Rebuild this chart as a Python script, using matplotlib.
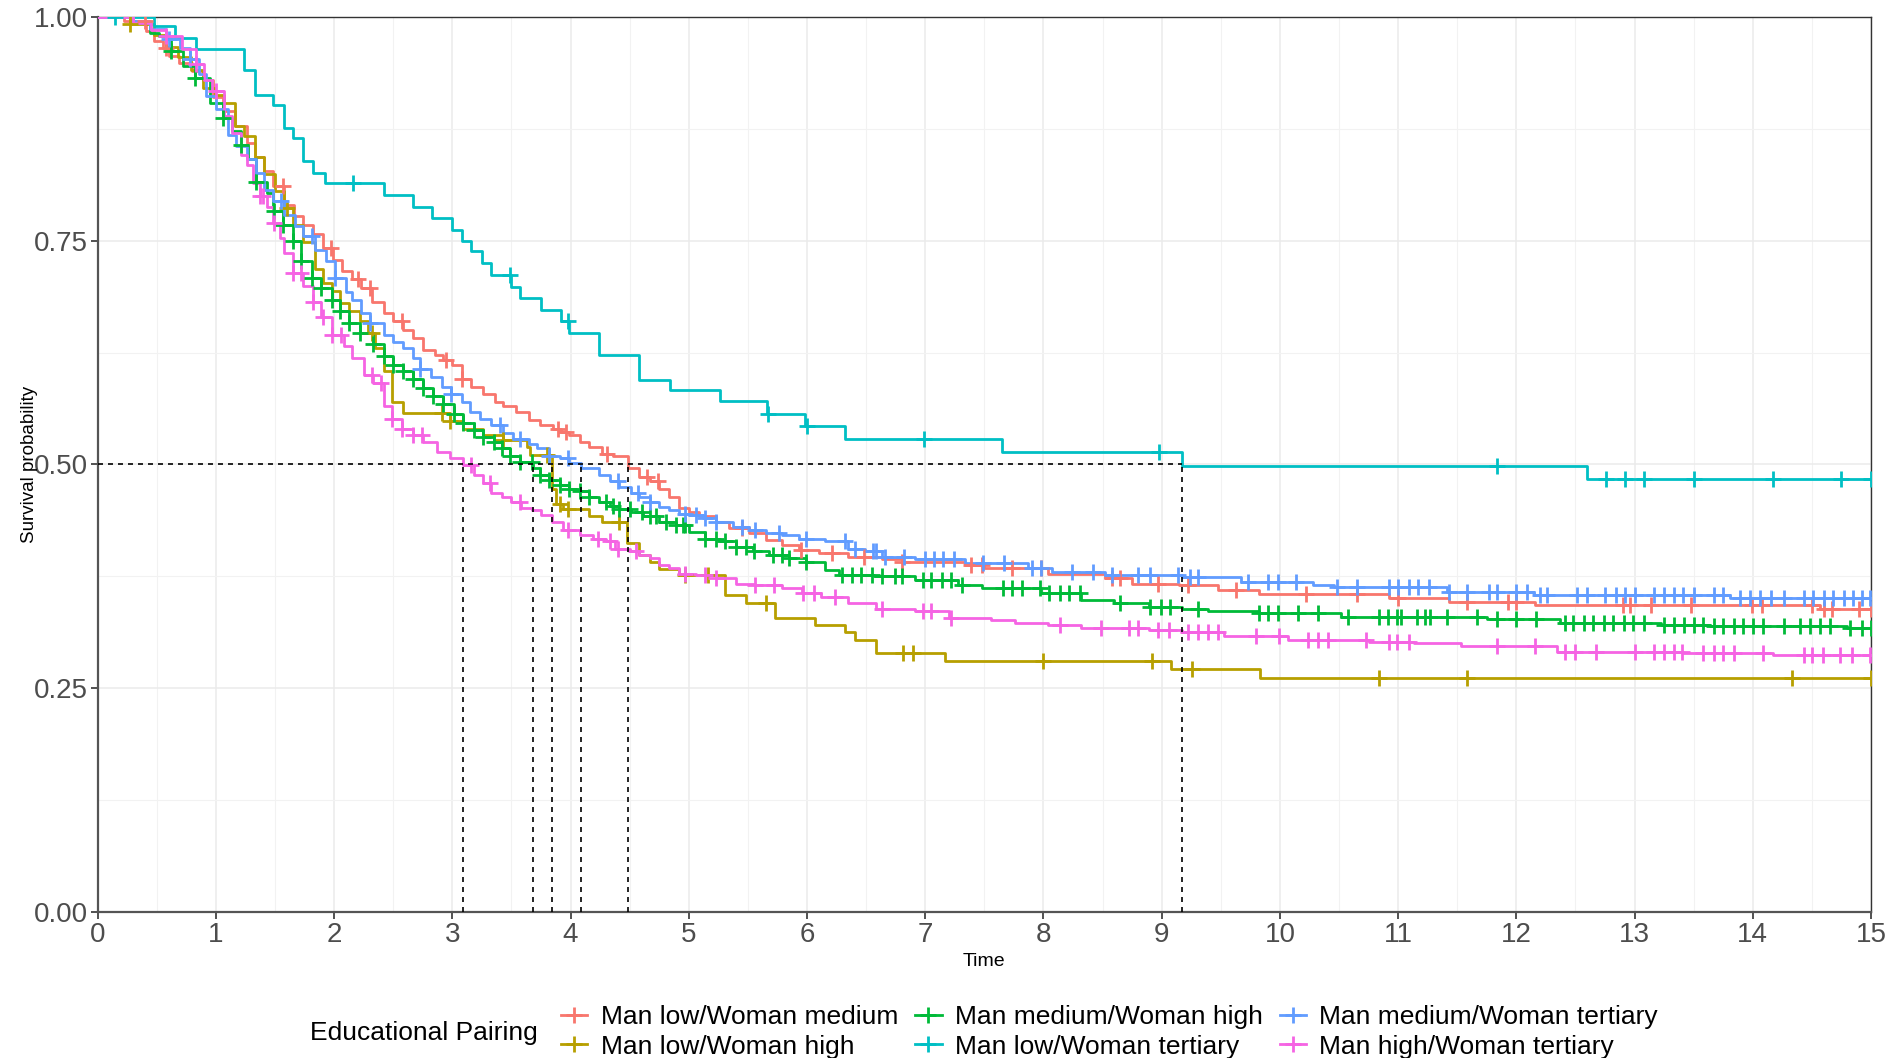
import numpy as np
import matplotlib
matplotlib.use("Agg")
import matplotlib.pyplot as plt
from matplotlib.lines import Line2D

plt.rcParams['font.family'] = ['Liberation Sans', 'DejaVu Sans']

# ── 데이터 (그림에서 읽은 Kaplan-Meier 계단값) ─────────────────────────────
labels = ["Man low/Woman medium", "Man low/Woman high", "Man medium/Woman high",
          "Man low/Woman tertiary", "Man medium/Woman tertiary", "Man high/Woman tertiary"]
colors = ["#F8766D", "#B79F00", "#00BA38", "#00BFC4", "#619CFF", "#F564E3"]

red_t = [0, 0.22, 0.41, 0.48, 0.55, 0.6, 0.69, 0.8, 0.89, 0.975, 1.06, 1.16, 1.26, 1.33, 1.41, 1.48,
         1.58, 1.66, 1.74, 1.82, 1.91, 1.99, 2.07, 2.15, 2.23, 2.32, 2.42, 2.5, 2.58, 2.67, 2.75, 2.85,
         2.92, 3.0, 3.08, 3.16, 3.26, 3.36, 3.43, 3.54, 3.65, 3.74, 3.85, 3.92, 3.99, 4.08, 4.16, 4.27,
         4.36, 4.49, 4.58, 4.67, 4.75, 4.83, 4.92, 5.0, 5.09, 5.23, 5.34, 5.51, 5.65, 5.79, 5.93, 6.1,
         6.35, 6.63, 6.8, 7.34, 7.5, 8.04, 8.52, 8.75, 9.15, 9.48, 9.82, 10.92, 11.43, 12.16, 14.57]
red_s = [1.0, 0.995, 0.984, 0.973, 0.965, 0.956, 0.949, 0.94, 0.93, 0.91, 0.895, 0.878, 0.859, 0.843,
         0.828, 0.811, 0.79, 0.778, 0.768, 0.757, 0.742, 0.728, 0.716, 0.707, 0.697, 0.682, 0.669, 0.66,
         0.65, 0.641, 0.628, 0.622, 0.617, 0.611, 0.596, 0.587, 0.579, 0.57, 0.565, 0.559, 0.55, 0.544,
         0.54, 0.536, 0.533, 0.525, 0.52, 0.512, 0.51, 0.496, 0.486, 0.481, 0.473, 0.464, 0.451, 0.447,
         0.442, 0.436, 0.429, 0.423, 0.416, 0.41, 0.404, 0.401, 0.397, 0.394, 0.391, 0.388, 0.384, 0.378,
         0.373, 0.367, 0.365, 0.36, 0.355, 0.351, 0.346, 0.343, 0.339]
red_cens = [0.4, 0.58, 1.57, 1.97, 2.2, 2.3, 2.57, 2.95, 3.08, 3.89, 3.96, 4.31, 4.65, 4.74, 5.45, 5.95,
            6.21, 6.48, 6.8, 7.39, 7.48, 7.73, 7.98, 8.58, 8.65, 8.97, 9.22, 9.63, 10.22, 10.65, 11.0,
            11.58, 11.93, 12.0, 12.9, 12.96, 13.14, 13.48, 13.99, 14.08, 14.5, 14.6, 14.67, 14.9, 15.0]

yel_t = [0, 0.27, 0.48, 0.58, 0.68, 0.79, 0.89, 0.99, 1.07, 1.16, 1.24, 1.33, 1.41, 1.5, 1.58, 1.65,
         1.74, 1.84, 1.91, 1.98, 2.05, 2.13, 2.22, 2.29, 2.35, 2.42, 2.49, 2.58, 2.98, 3.09, 3.26, 3.43,
         3.63, 3.66, 3.84, 3.88, 3.94, 4.16, 4.27, 4.48, 4.58, 4.67, 4.75, 4.92, 5.31, 5.48, 5.73, 6.07,
         6.32, 6.41, 6.58, 7.17, 9.08, 9.83]
yel_s = [1.0, 0.992, 0.98, 0.966, 0.955, 0.941, 0.921, 0.913, 0.904, 0.878, 0.867, 0.844, 0.824, 0.805,
         0.786, 0.768, 0.749, 0.718, 0.703, 0.694, 0.68, 0.671, 0.66, 0.647, 0.63, 0.604, 0.57, 0.557,
         0.548, 0.54, 0.533, 0.527, 0.52, 0.511, 0.473, 0.456, 0.45, 0.442, 0.436, 0.412, 0.399, 0.391,
         0.383, 0.376, 0.354, 0.345, 0.328, 0.321, 0.313, 0.304, 0.289, 0.28, 0.271, 0.261]
yel_cens = [0.27, 1.6, 2.32, 2.91, 2.98, 3.43, 3.8, 3.91, 3.98, 4.41, 4.97, 5.16, 5.65, 6.81, 6.9, 8.0,
            8.92, 9.26, 10.84, 11.58, 14.33, 15.0]

grn_t = [0, 0.3, 0.44, 0.52, 0.62, 0.72, 0.82, 0.95, 1.06, 1.14, 1.21, 1.27, 1.34, 1.43, 1.48, 1.57,
         1.65, 1.72, 1.81, 1.89, 1.98, 2.05, 2.13, 2.22, 2.33, 2.42, 2.5, 2.58, 2.67, 2.75, 2.84, 2.92,
         3.01, 3.09, 3.18, 3.26, 3.35, 3.42, 3.49, 3.57, 3.68, 3.74, 3.82, 3.91, 3.99, 4.08, 4.16, 4.24,
         4.33, 4.41, 4.51, 4.61, 4.75, 4.89, 5.0, 5.14, 5.26, 5.4, 5.54, 5.68, 5.85, 5.99, 6.15, 6.27,
         6.57, 6.91, 7.28, 7.48, 7.98, 8.32, 8.6, 8.89, 9.17, 9.39, 9.82, 10.52, 11.75, 12.37, 13.22,
         13.64, 14.8]
grn_s = [1.0, 0.993, 0.982, 0.979, 0.962, 0.945, 0.932, 0.904, 0.887, 0.872, 0.857, 0.841, 0.816, 0.803,
         0.783, 0.768, 0.75, 0.727, 0.708, 0.697, 0.684, 0.671, 0.658, 0.647, 0.635, 0.621, 0.611, 0.604,
         0.596, 0.585, 0.576, 0.568, 0.556, 0.546, 0.538, 0.531, 0.525, 0.518, 0.51, 0.503, 0.496, 0.488,
         0.483, 0.477, 0.473, 0.47, 0.464, 0.458, 0.454, 0.45, 0.447, 0.442, 0.436, 0.432, 0.425, 0.417,
         0.414, 0.408, 0.403, 0.399, 0.395, 0.391, 0.382, 0.377, 0.375, 0.371, 0.365, 0.362, 0.356, 0.349,
         0.345, 0.341, 0.339, 0.336, 0.334, 0.33, 0.327, 0.323, 0.321, 0.319, 0.317]
grn_cens = [0.62, 0.82, 1.06, 1.21, 1.34, 1.49, 1.57, 1.65, 1.72, 1.81, 1.89, 1.98, 2.05, 2.13, 2.22,
            2.33, 2.42, 2.5, 2.58, 2.67, 2.75, 2.84, 2.92, 3.01, 3.09, 3.18, 3.26, 3.35, 3.42, 3.49, 3.57,
            3.67, 3.74, 3.82, 3.91, 3.99, 4.08, 4.16, 4.3, 4.36, 4.41, 4.5, 4.6, 4.67, 4.72, 4.81, 4.89,
            4.95, 4.97, 5.14, 5.23, 5.31, 5.4, 5.48, 5.55, 5.71, 5.79, 5.85, 5.99, 6.3, 6.38, 6.46, 6.55,
            6.63, 6.74, 6.8, 6.98, 7.05, 7.14, 7.22, 7.31, 7.66, 7.73, 7.82, 7.97, 8.05, 8.14, 8.22, 8.31,
            8.65, 8.9, 8.99, 9.07, 9.31, 9.82, 9.9, 9.98, 10.15, 10.32, 10.58, 10.84, 10.91, 10.99, 11.02,
            11.16, 11.23, 11.27, 11.41, 11.67, 11.84, 12.0, 12.17, 12.41, 12.48, 12.57, 12.65, 12.74, 12.82,
            12.91, 12.99, 13.08, 13.25, 13.33, 13.42, 13.5, 13.58, 13.67, 13.75, 13.84, 13.92, 14.0, 14.09,
            14.26, 14.4, 14.48, 14.57, 14.65, 14.82, 14.92, 15.0]

teal_t = [0, 0.48, 0.65, 0.83, 1.24, 1.33, 1.48, 1.58, 1.65, 1.74, 1.82, 1.92, 2.42, 2.67, 2.83, 3.0,
          3.08, 3.16, 3.25, 3.33, 3.5, 3.57, 3.75, 3.92, 3.99, 4.24, 4.58, 4.84, 5.26, 5.66, 5.98, 6.32,
          7.65, 9.17, 12.6]
teal_s = [1.0, 0.99, 0.977, 0.964, 0.941, 0.913, 0.902, 0.876, 0.865, 0.839, 0.826, 0.815, 0.801, 0.788,
          0.775, 0.762, 0.75, 0.738, 0.725, 0.712, 0.698, 0.686, 0.673, 0.66, 0.647, 0.622, 0.594, 0.583,
          0.571, 0.556, 0.543, 0.529, 0.514, 0.498, 0.484]
teal_cens = [0.15, 2.16, 3.49, 3.98, 5.67, 6.0, 6.99, 8.98, 11.84, 12.76, 12.92, 13.08, 13.5, 14.17,
             14.75, 15.0]

blu_t = [0, 0.3, 0.44, 0.58, 0.7, 0.78, 0.86, 0.92, 1.0, 1.1, 1.17, 1.26, 1.34, 1.41, 1.48, 1.58, 1.67,
         1.74, 1.84, 1.93, 2.01, 2.1, 2.15, 2.23, 2.3, 2.42, 2.5, 2.58, 2.67, 2.73, 2.82, 2.91, 2.99,
         3.08, 3.15, 3.23, 3.33, 3.43, 3.51, 3.65, 3.72, 3.82, 3.91, 3.99, 4.09, 4.24, 4.33, 4.41, 4.51,
         4.58, 4.67, 4.75, 4.83, 4.92, 5.0, 5.12, 5.23, 5.37, 5.51, 5.65, 5.79, 5.93, 6.15, 6.35, 6.49,
         6.63, 6.91, 7.34, 7.87, 8.07, 8.52, 9.17, 9.67, 10.28, 10.46, 11.41, 12.15, 13.81]
blu_s = [1.0, 0.995, 0.986, 0.975, 0.965, 0.953, 0.936, 0.912, 0.897, 0.868, 0.856, 0.841, 0.826, 0.807,
         0.794, 0.779, 0.766, 0.755, 0.74, 0.727, 0.708, 0.693, 0.684, 0.669, 0.658, 0.645, 0.637, 0.63,
         0.619, 0.607, 0.598, 0.587, 0.579, 0.57, 0.559, 0.551, 0.544, 0.535, 0.529, 0.523, 0.518, 0.51,
         0.507, 0.502, 0.496, 0.488, 0.481, 0.475, 0.468, 0.464, 0.458, 0.453, 0.449, 0.445, 0.443, 0.44,
         0.436, 0.43, 0.427, 0.423, 0.421, 0.417, 0.414, 0.406, 0.403, 0.397, 0.394, 0.39, 0.384, 0.38,
         0.377, 0.374, 0.369, 0.365, 0.363, 0.358, 0.354, 0.351]
blu_cens = [0.6, 0.78, 1.55, 1.81, 2.01, 2.3, 2.73, 2.99, 3.4, 3.57, 3.82, 3.98, 4.4, 4.57, 4.67, 4.97,
            5.06, 5.14, 5.23, 5.45, 5.56, 5.76, 5.99, 6.32, 6.41, 6.56, 6.58, 6.66, 6.82, 7.0, 7.07, 7.15,
            7.24, 7.49, 7.67, 7.9, 7.98, 8.24, 8.42, 8.58, 8.8, 8.9, 9.14, 9.24, 9.31, 9.73, 9.9, 9.98,
            10.14, 10.48, 10.65, 10.92, 11.0, 11.09, 11.17, 11.26, 11.43, 11.58, 11.77, 11.84, 12.0, 12.09,
            12.2, 12.26, 12.51, 12.6, 12.75, 12.84, 12.92, 13.0, 13.16, 13.25, 13.33, 13.41, 13.5, 13.67,
            13.75, 13.89, 13.98, 14.06, 14.15, 14.26, 14.43, 14.51, 14.6, 14.68, 14.77, 14.85, 14.92, 14.99]

pnk_t = [0, 0.3, 0.45, 0.58, 0.71, 0.83, 0.9, 0.97, 1.07, 1.14, 1.21, 1.26, 1.31, 1.37, 1.43, 1.48, 1.54,
         1.58, 1.65, 1.74, 1.82, 1.89, 1.98, 2.08, 2.15, 2.25, 2.33, 2.42, 2.49, 2.57, 2.67, 2.75, 2.87,
         2.98, 3.09, 3.18, 3.26, 3.33, 3.42, 3.5, 3.58, 3.67, 3.75, 3.84, 3.94, 4.08, 4.19, 4.3, 4.38,
         4.5, 4.58, 4.67, 4.75, 4.83, 4.92, 5.06, 5.23, 5.4, 5.56, 5.79, 5.96, 6.12, 6.35, 6.58, 6.91,
         7.2, 7.56, 7.76, 8.04, 8.32, 8.89, 9.17, 9.53, 10.07, 10.75, 11.13, 11.53, 12.34, 13.41, 14.17]
pnk_s = [1.0, 0.993, 0.985, 0.979, 0.964, 0.947, 0.93, 0.917, 0.889, 0.87, 0.846, 0.835, 0.815, 0.8,
         0.788, 0.77, 0.753, 0.736, 0.714, 0.699, 0.682, 0.665, 0.645, 0.632, 0.619, 0.6, 0.591, 0.565,
         0.551, 0.54, 0.533, 0.525, 0.514, 0.507, 0.499, 0.488, 0.479, 0.468, 0.464, 0.458, 0.451, 0.449,
         0.443, 0.436, 0.427, 0.421, 0.417, 0.414, 0.406, 0.403, 0.399, 0.395, 0.388, 0.384, 0.378, 0.377,
         0.373, 0.367, 0.365, 0.362, 0.356, 0.352, 0.345, 0.339, 0.336, 0.328, 0.326, 0.323, 0.321, 0.317,
         0.315, 0.313, 0.308, 0.304, 0.302, 0.3, 0.297, 0.291, 0.289, 0.287]
pnk_cens = [0.58, 0.83, 1.0, 1.37, 1.4, 1.49, 1.65, 1.72, 1.82, 1.91, 1.98, 2.06, 2.32, 2.4, 2.49, 2.57,
            2.67, 2.74, 3.16, 3.32, 3.57, 3.98, 4.23, 4.33, 4.4, 4.55, 4.97, 5.14, 5.23, 5.56, 5.72, 5.97,
            6.06, 6.24, 6.63, 6.98, 7.05, 7.22, 8.14, 8.49, 8.72, 8.8, 8.97, 9.06, 9.22, 9.31, 9.39, 9.48,
            9.8, 9.99, 10.24, 10.32, 10.41, 10.73, 10.92, 10.99, 11.09, 11.84, 12.16, 12.41, 12.5, 12.67,
            13.0, 13.16, 13.25, 13.33, 13.4, 13.58, 13.67, 13.75, 13.84, 14.09, 14.43, 14.5, 14.59, 14.74,
            14.84, 14.99]

curves = [(red_t, red_s, red_cens), (yel_t, yel_s, yel_cens), (grn_t, grn_s, grn_cens),
          (teal_t, teal_s, teal_cens), (blu_t, blu_s, blu_cens), (pnk_t, pnk_s, pnk_cens)]
T_MAX = 15

fig = plt.figure(figsize=(18.89, 10.58), dpi=100)
ax = fig.add_axes([0.0517, 0.138, 0.9388, 0.846])

# 격자 (ggplot 스타일)
ax.set_xticks(range(0, 16))
ax.set_xticks(np.arange(0.5, 15, 1), minor=True)
ax.set_yticks([0, 0.25, 0.5, 0.75, 1.0])
ax.set_yticks([0.125, 0.375, 0.625, 0.875], minor=True)
ax.grid(which='major', color='#ebebeb', linewidth=1.1)
ax.grid(which='minor', color='#f2f2f2', linewidth=0.8)
ax.set_axisbelow(True)

# 계단 곡선
for (t, s, _), c in zip(curves, colors):
    tt = np.append(t, T_MAX)
    ss = np.append(s, s[-1])
    ax.step(tt, ss, where='post', color=c, linewidth=2.0, zorder=3)

# 중도절단 표시(+)
for (t, s, cens), c in zip(curves, colors):
    idx = np.searchsorted(t, cens, side='right') - 1
    ax.plot(cens, np.asarray(s)[idx], linestyle='none', marker='+', color=c,
            markersize=11, markeredgewidth=2.0, zorder=4)

# 중앙 생존시간 점선
medians = []
for t, s, _ in curves:
    s = np.asarray(s)
    medians.append(t[int(np.argmax(s <= 0.5))])
ax.plot([0, max(medians)], [0.5, 0.5], color='black', linestyle=(0, (3, 3)), linewidth=1.2, zorder=5)
for m in medians:
    ax.plot([m, m], [0, 0.5], color='black', linestyle=(0, (3, 3)), linewidth=1.2, zorder=5)

ax.set_xlim(0, T_MAX)
ax.set_ylim(0, 1)
ax.set_yticklabels(["0.00", "0.25", "0.50", "0.75", "1.00"])
ax.tick_params(axis='both', which='major', labelsize=20, labelcolor='#4d4d4d', color='#333333',
               length=5, width=1.2, pad=2)
ax.tick_params(which='minor', length=0)
for side in ['left', 'bottom']:
    ax.spines[side].set_color('#555555')
    ax.spines[side].set_linewidth(1.6)
for side in ['top', 'right']:
    ax.spines[side].set_color('#333333')
    ax.spines[side].set_linewidth(1.0)

ax.set_xlabel("Time", fontsize=14, labelpad=4)
ax.set_ylabel("Survival probability", fontsize=13.5, labelpad=-3)

# 범례
handles = [Line2D([], [], color=c, marker='+', markersize=11, markeredgewidth=2.0, linewidth=2.0)
           for c in colors]
fig.legend(handles, labels, ncol=3, loc='center left', bbox_to_anchor=(0.297, 0.0245),
           frameon=False, fontsize=19, handlelength=1.0, handletextpad=0.5,
           columnspacing=0.65, labelspacing=0.2, borderpad=0, borderaxespad=0)
fig.text(0.164, 0.0235, "Educational Pairing", fontsize=19, va='center', ha='left')

fig.savefig("out.png", dpi=100)
